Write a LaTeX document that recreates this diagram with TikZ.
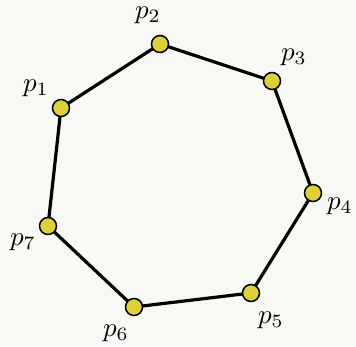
\documentclass[tikz,border=0pt]{standalone}
\usetikzlibrary{backgrounds}
\begin{document}
\begin{tikzpicture}[x=1pt,y=-1pt,
  pt/.style={circle,draw=black,line width=1.5pt,fill=ptyellow,minimum size=17pt,inner sep=0pt},
  lab/.style={inner sep=0pt},
  edge/.style={line width=3.2pt}]
\definecolor{ptyellow}{HTML}{DDD03A}
\definecolor{bg}{HTML}{F8F8F4}
\newcommand{\lbl}[1]{\scalebox{2.7}{$p_{#1}$}}
\useasboundingbox (0,0) rectangle (356,346);
\node[pt] (p1) at (61,108) {};
\node[pt] (p2) at (160,44) {};
\node[pt] (p3) at (272,81) {};
\node[pt] (p4) at (313,193) {};
\node[pt] (p5) at (251,293) {};
\node[pt] (p6) at (134,307) {};
\node[pt] (p7) at (48,226) {};
\begin{scope}[on background layer]
\fill[bg] (0,0) rectangle (356,346);
\draw[edge,line join=round] (p1.center) -- (p2.center) -- (p3.center) -- (p4.center) -- (p5.center) -- (p6.center) -- (p7.center) -- cycle;
\end{scope}
\node[lab] (l1) at (36,88) {\lbl{1}};
\node[lab] (l2) at (148,15) {\lbl{2}};
\node[lab] (l3) at (294,57) {\lbl{3}};
\node[lab] (l4) at (340,206) {\lbl{4}};
\node[lab] (l5) at (271,320) {\lbl{5}};
\node[lab] (l6) at (116,333) {\lbl{6}};
\node[lab] (l7) at (23,242) {\lbl{7}};
\end{tikzpicture}
\end{document}
